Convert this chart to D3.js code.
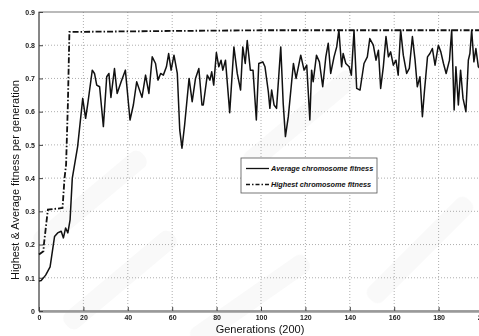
<!DOCTYPE html>
<html>
<head>
<meta charset="utf-8">
<script src="https://cdn.jsdelivr.net/npm/d3@7"></script>
<style>
  html, body { margin: 0; padding: 0; background: #fff; overflow: hidden; }
  svg { display: block; }
  .tick-label { font-family: "Liberation Sans", Arial, sans-serif; font-size: 7px; font-weight: bold; fill: #222; }
  .axis-title { font-family: "Liberation Sans", Arial, sans-serif; font-size: 11px; fill: #111; }
  .legend-text { font-family: "Liberation Sans", Arial, sans-serif; font-size: 7.3px; font-weight: bold; font-style: italic; fill: #111; }
</style>
</head>
<body>
<div id="chart"></div>
<script>
// generations / values
const avgGen = [0, 1, 3, 5, 7, 8.4, 10, 11, 12, 13, 14, 15, 17.4, 19.7, 21, 22, 24, 25, 26, 27.3, 29, 30.5, 31.5, 32.4, 34, 35.2, 37, 38.9,
  41, 42.5, 44, 46.4, 48, 49.5, 51, 52.5, 53.6, 54.8, 56, 57.4, 58.4, 59.5, 60.8, 62.3, 63.4, 64.4, 65.6, 67.6, 69, 70.5, 72, 73.4, 74,
  75.8, 77, 77.8, 78.7, 79.9, 81, 82, 82.8, 84, 85.9, 87.8, 89.3, 90.8, 91.8, 92.9, 93.8, 95.2, 96.4, 97.9, 99, 100.8, 101.8, 103.3, 104,
  104.8, 105.9, 107, 108.9, 110, 111, 112.3, 114.6, 115.8, 117.9, 119.4, 120.6, 122, 122.8, 123.5, 125, 126.3, 127.8, 129.2, 130.3,
  131.4, 132.9, 134.1, 135.1, 136.3, 137, 138.2, 139.7, 140.7, 141.9, 143.1, 144.6, 146.4, 147.9, 149, 150.6, 151.8, 152.9, 153.9,
  155.1, 156.3, 157.4, 158.4, 159.6, 160.8, 161.8, 162.9, 164.1, 165.6, 166.8, 168.2, 169.4, 170.4, 171.6, 172.7, 173.6, 175, 176.1,
  177.2, 178.4, 179.9, 181, 182.2, 183.4, 184.9, 185.9, 187, 187.8, 188.9, 189.9, 191, 192.3, 193.4, 194.1, 194.9, 195.9, 196.8, 197.9, 200];
const avgFit = [0.09, 0.092, 0.108, 0.133, 0.224, 0.235, 0.24, 0.22, 0.25, 0.235, 0.274, 0.40, 0.495, 0.64, 0.58, 0.625, 0.725, 0.715, 0.68, 0.675, 0.555, 0.705, 0.715, 0.643, 0.73, 0.655, 0.69, 0.725,
  0.575, 0.62, 0.69, 0.643, 0.71, 0.655, 0.765, 0.745, 0.695, 0.715, 0.71, 0.735, 0.775, 0.725, 0.77, 0.715, 0.545, 0.49, 0.56, 0.70, 0.63, 0.70, 0.73, 0.62, 0.62,
  0.71, 0.695, 0.72, 0.68, 0.778, 0.735, 0.755, 0.725, 0.755, 0.597, 0.795, 0.715, 0.665, 0.795, 0.745, 0.814, 0.725, 0.725, 0.575, 0.745, 0.75, 0.735, 0.66, 0.61,
  0.665, 0.62, 0.61, 0.795, 0.625, 0.525, 0.585, 0.745, 0.70, 0.77, 0.725, 0.74, 0.575, 0.725, 0.69, 0.77, 0.75, 0.675, 0.765, 0.806,
  0.715, 0.765, 0.795, 0.846, 0.735, 0.775, 0.745, 0.735, 0.71, 0.844, 0.67, 0.665, 0.745, 0.765, 0.82, 0.80, 0.755, 0.785, 0.67,
  0.735, 0.826, 0.765, 0.78, 0.74, 0.755, 0.71, 0.846, 0.77, 0.715, 0.73, 0.826, 0.755, 0.675, 0.705, 0.585, 0.66, 0.765, 0.775,
  0.79, 0.74, 0.80, 0.78, 0.745, 0.715, 0.755, 0.846, 0.605, 0.735, 0.62, 0.725, 0.64, 0.60, 0.755, 0.775, 0.846, 0.75, 0.79, 0.735, 0.72];

const bestGen = [0, 2, 2.2, 4, 10.6, 11.5, 12.2, 13, 13.7, 30, 60, 100, 200];
const bestFit = [0.17, 0.18, 0.20, 0.305, 0.31, 0.40, 0.44, 0.62, 0.84, 0.841, 0.843, 0.845, 0.845];

const xTicks = [0, 20, 40, 60, 80, 100, 120, 140, 160, 180, 200];
const yTicks = [0, 0.1, 0.2, 0.3, 0.4, 0.5, 0.6, 0.7, 0.8, 0.9];
const legendLabels = ["Average chromosome fitness", "Highest chromosome fitness"];

const W = 479, H = 336;
const plot = { left: 39, right: 483, top: 12, bottom: 311 };

const svg = d3.select("#chart").append("svg")
  .attr("width", W).attr("height", H);

const x = d3.scaleLinear().domain([0, 200]).range([plot.left, plot.right]);
const y = d3.scaleLinear().domain([0, 0.9]).range([plot.bottom, plot.top]);

// faint watermark bands
const wm = svg.append("g").attr("opacity", 0.035);
[[120, 280, -40], [300, 120, -40], [420, 250, -45], [90, 200, -40], [250, 300, -35]].forEach(([cx, cy, r]) => {
  wm.append("rect")
    .attr("x", cx - 70).attr("y", cy - 10).attr("width", 140).attr("height", 20)
    .attr("rx", 8).attr("fill", "#555")
    .attr("transform", `rotate(${r} ${cx} ${cy})`);
});

// grid
const grid = svg.append("g").attr("stroke", "#999").attr("stroke-width", 0.8).attr("stroke-dasharray", "1,2");
grid.selectAll(".gx").data(xTicks.filter(d => d > 0 && d < 200)).join("line")
  .attr("x1", d => x(d)).attr("x2", d => x(d)).attr("y1", plot.top).attr("y2", plot.bottom);
grid.selectAll(".gy").data(yTicks.filter(d => d > 0 && d < 0.9)).join("line")
  .attr("x1", plot.left).attr("x2", plot.right).attr("y1", d => y(d)).attr("y2", d => y(d));

// frame
svg.append("rect")
  .attr("x", plot.left).attr("y", plot.top).attr("width", plot.right - plot.left).attr("height", plot.bottom - plot.top)
  .attr("fill", "none").attr("stroke", "#777").attr("stroke-width", 1);
svg.append("line").attr("x1", plot.left).attr("x2", plot.right).attr("y1", plot.bottom + 0.5).attr("y2", plot.bottom + 0.5)
  .attr("stroke", "#999").attr("stroke-width", 2.5);
svg.append("line").attr("x1", plot.left).attr("x2", plot.left).attr("y1", plot.top).attr("y2", plot.bottom)
  .attr("stroke", "#555").attr("stroke-width", 1);

// axes (ticks inward, MATLAB style)
const xAxis = svg.append("g").attr("transform", `translate(0,${plot.bottom})`)
  .call(d3.axisBottom(x).tickValues(xTicks).tickSize(-4).tickPadding(4).tickFormat(d3.format("d")));
const yAxis = svg.append("g").attr("transform", `translate(${plot.left},0)`)
  .call(d3.axisLeft(y).tickValues(yTicks).tickSize(-4).tickPadding(4).tickFormat(d => d === 0 ? "0" : d3.format(".1f")(d)));
[xAxis, yAxis].forEach(a => {
  a.select(".domain").remove();
  a.selectAll(".tick line").attr("stroke", "#444");
  a.selectAll(".tick text").attr("class", "tick-label").attr("fill", null);
});

// series
const avgData = avgGen.map((g, i) => [g, avgFit[i]]);
const bestData = bestGen.map((g, i) => [g, bestFit[i]]);
const line = d3.line().x(d => x(d[0])).y(d => y(d[1]));

svg.append("path").datum(bestData)
  .attr("d", line).attr("fill", "none").attr("stroke", "#111")
  .attr("stroke-width", 1.8).attr("stroke-dasharray", "6,2,1.5,2");
svg.append("path").datum(avgData)
  .attr("d", line).attr("fill", "none").attr("stroke", "#111")
  .attr("stroke-width", 1.5).attr("stroke-linejoin", "round");

// titles
svg.append("text").attr("class", "axis-title")
  .attr("x", 260).attr("y", 333).attr("text-anchor", "middle")
  .text("Generations (200)");
svg.append("text").attr("class", "axis-title")
  .attr("transform", "translate(19,180) rotate(-90)").attr("text-anchor", "middle")
  .text("Highest & Average fitness per generation");

// legend
const lg = svg.append("g");
lg.append("rect").attr("x", 241).attr("y", 158).attr("width", 136).attr("height", 35)
  .attr("fill", "#fff").attr("stroke", "#555").attr("stroke-width", 0.8);
legendLabels.forEach((lab, i) => {
  const ly = 168.5 + i * 16;
  lg.append("line").attr("x1", 246).attr("x2", 269).attr("y1", ly).attr("y2", ly)
    .attr("stroke", "#111").attr("stroke-width", 1.3)
    .attr("stroke-dasharray", i === 0 ? null : "4,2,1.5,2");
  lg.append("text").attr("class", "legend-text")
    .attr("x", 271).attr("y", ly + 2.5).text(lab);
});
</script>
</body>
</html>
